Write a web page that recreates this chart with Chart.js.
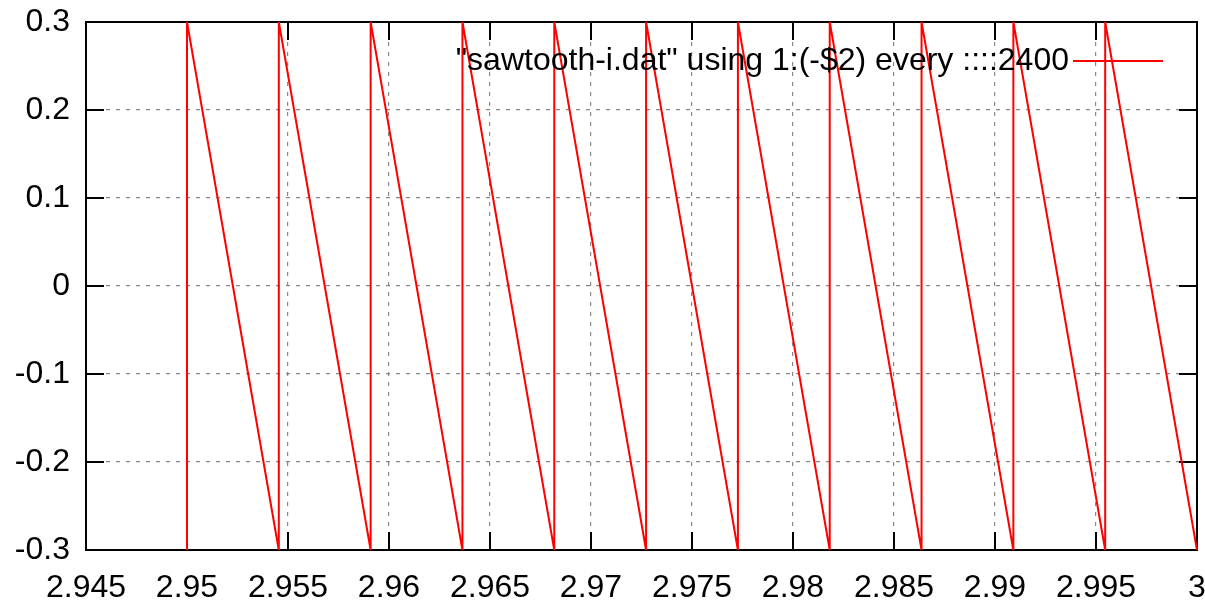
<!DOCTYPE html>
<html>
<head>
<meta charset="utf-8">
<script src="https://cdn.jsdelivr.net/npm/chart.js@4/dist/chart.umd.min.js"></script>
<style>
  html, body { margin: 0; padding: 0; background: #fff; }
  #wrap { width: 1205px; height: 603px; }
</style>
</head>
<body>
<div id="wrap"><canvas id="saw" width="1205" height="603"></canvas></div>
<script>
// sawtooth samples (x = time, y = -$2)
const sawX = [2.95, 2.95, 2.954545, 2.954545, 2.959091, 2.959091, 2.963636, 2.963636,
              2.968182, 2.968182, 2.972727, 2.972727, 2.977273, 2.977273, 2.981818, 2.981818,
              2.986364, 2.986364, 2.990909, 2.990909, 2.995455, 2.995455, 3.0];
const sawY = [-0.3, 0.3, -0.3, 0.3, -0.3, 0.3, -0.3, 0.3,
              -0.3, 0.3, -0.3, 0.3, -0.3, 0.3, -0.3, 0.3,
              -0.3, 0.3, -0.3, 0.3, -0.3, 0.3, -0.3];

const xTicks = [2.945, 2.95, 2.955, 2.96, 2.965, 2.97, 2.975, 2.98, 2.985, 2.99, 2.995, 3];
const yTicks = [-0.3, -0.2, -0.1, 0, 0.1, 0.2, 0.3];
const seriesLabel = '"sawtooth-i.dat" using 1:(-$2) every ::::2400';

const FONT = "'Liberation Sans', Arial, Helvetica, sans-serif";
const FSIZE = 32;

// gnuplot-like frame: border + inward ticks on all four sides (under the data)
const gnuFrame = {
  id: 'gnuFrame',
  beforeDatasetsDraw(chart) {
    const { ctx, chartArea: a, scales } = chart;
    const tl = 18;
    ctx.save();
    ctx.strokeStyle = '#000';
    ctx.lineWidth = 2;
    ctx.beginPath();
    xTicks.forEach(v => {
      const px = Math.round(scales.x.getPixelForValue(v));
      ctx.moveTo(px, a.bottom); ctx.lineTo(px, a.bottom - tl);
      ctx.moveTo(px, a.top);    ctx.lineTo(px, a.top + tl);
    });
    yTicks.forEach(v => {
      const py = Math.round(scales.y.getPixelForValue(v));
      ctx.moveTo(a.left, py);  ctx.lineTo(a.left + tl, py);
      ctx.moveTo(a.right, py); ctx.lineTo(a.right - tl, py);
    });
    ctx.stroke();
    ctx.strokeRect(a.left, a.top, a.right - a.left, a.bottom - a.top);
    ctx.restore();
  },
  afterDraw(chart) {
    // key, top right
    const { ctx } = chart;
    ctx.save();
    ctx.font = FSIZE + 'px ' + FONT;
    ctx.fillStyle = '#000';
    ctx.textAlign = 'right';
    ctx.textBaseline = 'middle';
    ctx.fillText(seriesLabel, 1069, 61);
    ctx.strokeStyle = '#ff0000';
    ctx.lineWidth = 2;
    ctx.beginPath();
    ctx.moveTo(1073, 61); ctx.lineTo(1163, 61);
    ctx.stroke();
    ctx.restore();
  }
};

new Chart(document.getElementById('saw'), {
  type: 'line',
  data: {
    datasets: [{
      label: seriesLabel,
      data: sawX.map((x, i) => ({ x, y: sawY[i] })),
      borderColor: '#ff0000',
      borderWidth: 2,
      pointRadius: 0,
      tension: 0,
      fill: false,
      clip: 2,
    }]
  },
  options: {
    responsive: false,
    animation: false,
    layout: { padding: { top: 22, right: 8, left: 0, bottom: 0 } },
    plugins: { legend: { display: false }, tooltip: { enabled: false } },
    scales: {
      x: {
        type: 'linear',
        min: 2.945, max: 3,
        afterBuildTicks: s => { s.ticks = xTicks.map(v => ({ value: v })); },
        afterFit: s => { s.height = 53; s.paddingLeft = 0; s.paddingRight = 0; },
        ticks: {
          color: '#000',
          font: { family: FONT, size: FSIZE },
          padding: 19,
          maxRotation: 0,
          autoSkip: false,
          callback: v => String(+v.toFixed(3)),
        },
        grid: { color: '#888', lineWidth: 1.2, drawTicks: false },
        border: { display: false, dash: [4, 6] },
      },
      y: {
        type: 'linear',
        min: -0.3, max: 0.3,
        afterBuildTicks: s => { s.ticks = yTicks.map(v => ({ value: v })); },
        afterFit: s => { s.width = 86; s.paddingTop = 0; s.paddingBottom = 0; },
        ticks: {
          color: '#000',
          font: { family: FONT, size: FSIZE },
          padding: 16,
          autoSkip: false,
          callback: v => String(+v.toFixed(1)),
        },
        grid: { color: '#888', lineWidth: 1.2, drawTicks: false },
        border: { display: false, dash: [4, 6] },
      }
    }
  },
  plugins: [gnuFrame]
});
</script>
</body>
</html>
